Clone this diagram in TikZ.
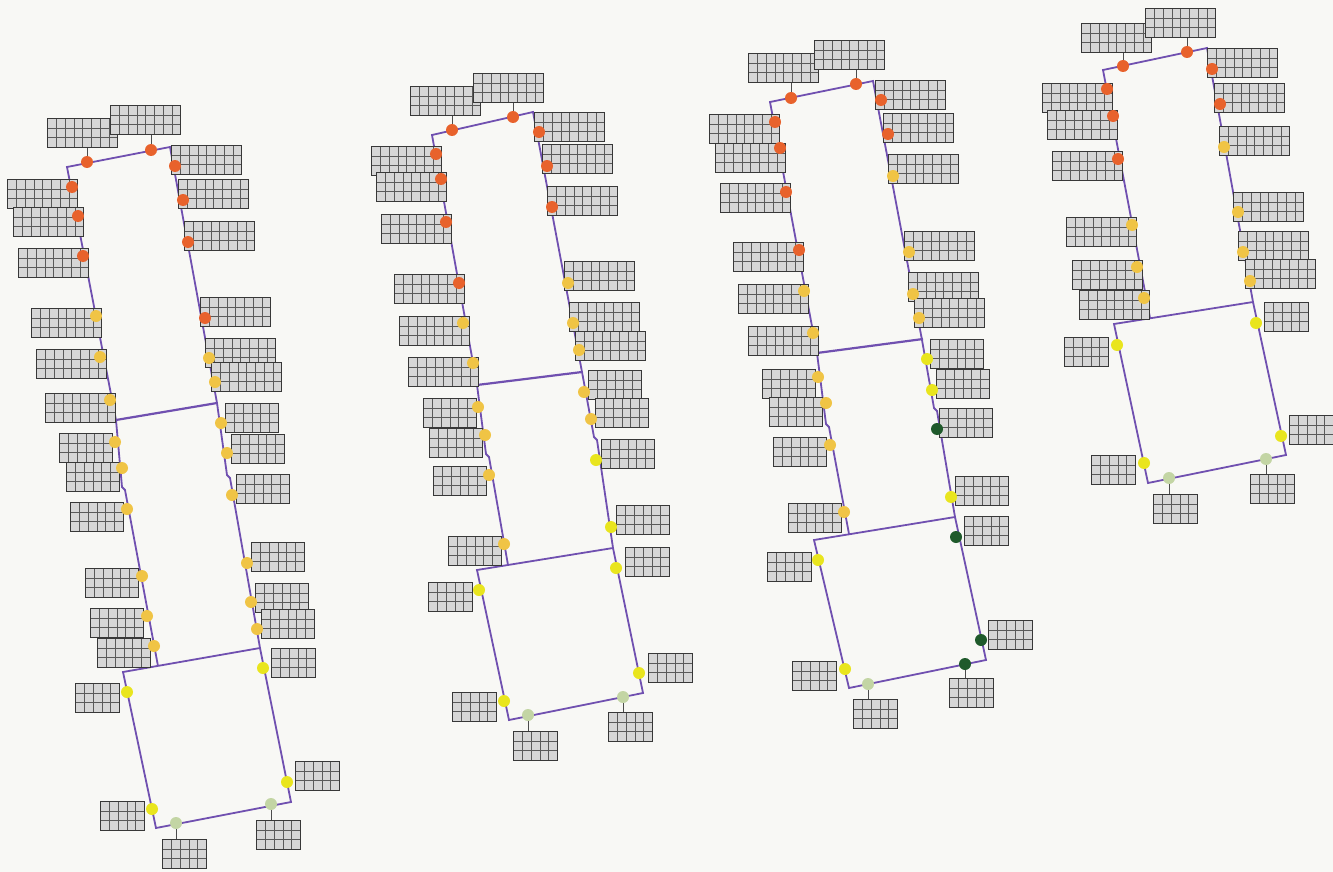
\documentclass[tikz,border=0pt]{standalone}
\usetikzlibrary{calc}

\definecolor{paper}{HTML}{F8F8F5}
\definecolor{loopline}{HTML}{7050B0}
\definecolor{dotred}{HTML}{E8622C}
\definecolor{dotgold}{HTML}{F0C445}
\definecolor{dotyel}{HTML}{E9E51E}
\definecolor{dotpale}{HTML}{C3D5A4}
\definecolor{dotdark}{HTML}{1F5A2B}

\begin{document}
\begin{tikzpicture}[
    x=1pt, y=-1pt,
    loopedge/.style={loopline, line width=1.8pt, line join=miter},
    divider/.style={loopline, line width=2.2pt},
    tbl/.style={draw=black!78, fill=black!16, line width=0.9pt, inner sep=0pt, anchor=north west,
        minimum width=8.8pt*#1, minimum height=29pt,
        path picture={
            \foreach \r in {1,2}
                \draw[black!65, line width=0.7pt]
                    ($(path picture bounding box.north west)!\r/3!(path picture bounding box.south west)$) --
                    ($(path picture bounding box.north east)!\r/3!(path picture bounding box.south east)$);
            \foreach \k in {1,...,#1}
                \draw[black!65, line width=0.7pt]
                    ($(path picture bounding box.north west)!\k/#1!(path picture bounding box.north east)$) --
                    ($(path picture bounding box.south west)!\k/#1!(path picture bounding box.south east)$);
        }},
    dot/.style={circle, fill=#1, inner sep=0pt, minimum size=12pt},
    link/.style={black!70, line width=1pt},
]

% Paper
\fill[paper] (0,0) rectangle (1333,872);
\useasboundingbox (0,0) rectangle (1333,872);

% Probe lists: dot x / dot y / colour / table x / table y / columns / id
\def\loopA{87/162/dotred/47/118/8/a1, 151/150/dotred/110/105/8/a2,
  72/187/dotred/7/179/8/a3, 78/216/dotred/13/207/8/a4, 83/256/dotred/18/248/8/a5,
  96/316/dotgold/31/308/8/a6, 100/357/dotgold/36/349/8/a7, 110/400/dotgold/45/393/8/a8,
  115/442/dotgold/59/433/6/a9, 122/468/dotgold/66/462/6/a10, 127/509/dotgold/70/502/6/a11,
  142/576/dotgold/85/568/6/a12, 147/616/dotgold/90/608/6/a13, 154/646/dotgold/97/638/6/a14,
  127/692/dotyel/75/683/5/a15, 152/809/dotyel/100/801/5/a16,
  175/166/dotred/171/145/8/a17, 183/200/dotred/178/179/8/a18, 188/242/dotred/184/221/8/a19,
  205/318/dotred/200/297/8/a20, 209/358/dotgold/205/338/8/a21, 215/382/dotgold/211/362/8/a22,
  221/423/dotgold/225/403/6/a23, 227/453/dotgold/231/434/6/a24, 232/495/dotgold/236/474/6/a25,
  247/563/dotgold/251/542/6/a26, 251/602/dotgold/255/583/6/a27, 257/629/dotgold/261/609/6/a28,
  263/668/dotyel/271/648/5/a29, 287/782/dotyel/295/761/5/a30,
  176/823/dotpale/162/839/5/a31, 271/804/dotpale/256/820/5/a32}
\def\loopB{452/130/dotred/410/86/8/b1, 513/117/dotred/473/73/8/b2,
  436/154/dotred/371/146/8/b3, 441/179/dotred/376/172/8/b4, 446/222/dotred/381/214/8/b5,
  459/283/dotred/394/274/8/b6, 463/323/dotgold/399/316/8/b7, 473/363/dotgold/408/357/8/b8,
  478/407/dotgold/423/398/6/b9, 485/435/dotgold/429/428/6/b10, 489/475/dotgold/433/466/6/b11,
  504/544/dotgold/448/536/6/b12, 479/590/dotyel/428/582/5/b13, 504/701/dotyel/452/692/5/b14,
  539/132/dotred/534/112/8/b15, 547/166/dotred/542/144/8/b16, 552/207/dotred/547/186/8/b17,
  568/283/dotgold/564/261/8/b18, 573/323/dotgold/569/302/8/b19, 579/350/dotgold/575/331/8/b20,
  584/392/dotgold/588/370/6/b21, 591/419/dotgold/595/398/6/b22, 596/460/dotyel/601/439/6/b23,
  611/527/dotyel/616/505/6/b24, 616/568/dotyel/625/547/5/b25, 639/673/dotyel/648/653/5/b26,
  528/715/dotpale/513/731/5/b27, 623/697/dotpale/608/712/5/b28}
\def\loopC{791/98/dotred/748/53/8/c1, 856/84/dotred/814/40/8/c2,
  775/122/dotred/709/114/8/c3, 780/148/dotred/715/143/8/c4, 786/192/dotred/720/183/8/c5,
  799/250/dotred/733/242/8/c6, 804/291/dotgold/738/284/8/c7, 813/333/dotgold/748/326/8/c8,
  818/377/dotgold/762/369/6/c9, 826/403/dotgold/769/397/6/c10, 830/445/dotgold/773/437/6/c11,
  844/512/dotgold/788/503/6/c12, 818/560/dotyel/767/552/5/c13, 845/669/dotyel/792/661/5/c14,
  881/100/dotred/875/80/8/c15, 888/134/dotred/883/113/8/c16, 893/176/dotgold/888/154/8/c17,
  909/252/dotgold/904/231/8/c18, 913/294/dotgold/908/272/8/c19, 919/318/dotgold/914/298/8/c20,
  927/359/dotyel/930/339/6/c21, 932/390/dotyel/936/369/6/c22, 937/429/dotdark/939/408/6/c23,
  951/497/dotyel/955/476/6/c24, 956/537/dotdark/964/516/5/c25, 981/640/dotdark/988/620/5/c26,
  868/684/dotpale/853/699/5/c27, 965/664/dotdark/949/678/5/c28}
\def\loopD{1123/66/dotred/1081/23/8/d1, 1187/52/dotred/1145/8/8/d2,
  1107/89/dotred/1042/83/8/d3, 1113/116/dotred/1047/110/8/d4, 1118/159/dotred/1052/151/8/d5,
  1132/225/dotgold/1066/217/8/d6, 1137/267/dotgold/1072/260/8/d7, 1144/298/dotgold/1079/290/8/d8,
  1117/345/dotyel/1064/337/5/d9, 1144/463/dotyel/1091/455/5/d10,
  1212/69/dotred/1207/48/8/d11, 1220/104/dotred/1214/83/8/d12, 1224/147/dotgold/1219/126/8/d13,
  1238/212/dotgold/1233/192/8/d14, 1243/252/dotgold/1238/231/8/d15, 1250/281/dotgold/1245/259/8/d16,
  1256/323/dotyel/1264/302/5/d17, 1281/436/dotyel/1289/415/5/d18,
  1169/478/dotpale/1153/494/5/d19, 1266/459/dotpale/1250/474/5/d20}

% Loop A
\draw[loopedge] (158,666) -- (125,490) -- (122,487) -- (116,420) -- (67,167) -- (170,147)
    -- (217,403) -- (227,475) -- (230,478) -- (260,648);
\draw[divider] (116,420) -- (217,403);
\draw[loopedge] (123,672) -- (260,648) -- (291,802) -- (156,828) -- cycle;

% Loop B
\draw[loopedge] (508,565) -- (489,457) -- (486,454) -- (477,385) -- (432,135) -- (533,112)
    -- (582,372) -- (594,437) -- (597,440) -- (613,548);
\draw[divider] (477,385) -- (582,372);
\draw[loopedge] (477,570) -- (613,548) -- (643,693) -- (509,720) -- cycle;

% Loop C
\draw[loopedge] (849,534) -- (829,427) -- (826,424) -- (817,353) -- (770,102) -- (873,81)
    -- (922,340) -- (934,408) -- (937,411) -- (955,517);
\draw[divider] (817,353) -- (923,339);
\draw[loopedge] (814,540) -- (955,517) -- (986,660) -- (849,688) -- cycle;

% Loop D
\draw[loopedge] (1150,318) -- (1103,70) -- (1207,48) -- (1253,302);
\draw[loopedge] (1114,324) -- (1253,302) -- (1286,455) -- (1148,483) -- cycle;

% Tables
\foreach \dx/\dy/\col/\tx/\ty/\n/\id in \loopA {\node[tbl=\n] (t\id) at (\tx,\ty) {};}
\foreach \dx/\dy/\col/\tx/\ty/\n/\id in \loopB {\node[tbl=\n] (t\id) at (\tx,\ty) {};}
\foreach \dx/\dy/\col/\tx/\ty/\n/\id in \loopC {\node[tbl=\n] (t\id) at (\tx,\ty) {};}
\foreach \dx/\dy/\col/\tx/\ty/\n/\id in \loopD {\node[tbl=\n] (t\id) at (\tx,\ty) {};}

% Probe dots
\foreach \dx/\dy/\col/\tx/\ty/\n/\id in \loopA {\node[dot=\col] (p\id) at (\dx,\dy) {};}
\foreach \dx/\dy/\col/\tx/\ty/\n/\id in \loopB {\node[dot=\col] (p\id) at (\dx,\dy) {};}
\foreach \dx/\dy/\col/\tx/\ty/\n/\id in \loopC {\node[dot=\col] (p\id) at (\dx,\dy) {};}
\foreach \dx/\dy/\col/\tx/\ty/\n/\id in \loopD {\node[dot=\col] (p\id) at (\dx,\dy) {};}

% Leaders to tables above and below
\foreach \id in {a1,a2,b1,b2,c1,c2,d1,d2}
    \draw[link] (p\id) -- (p\id |- t\id.south);
\foreach \id in {a31,a32,b27,b28,c27,c28,d19,d20}
    \draw[link] (p\id) -- (p\id |- t\id.north);

\end{tikzpicture}
\end{document}
